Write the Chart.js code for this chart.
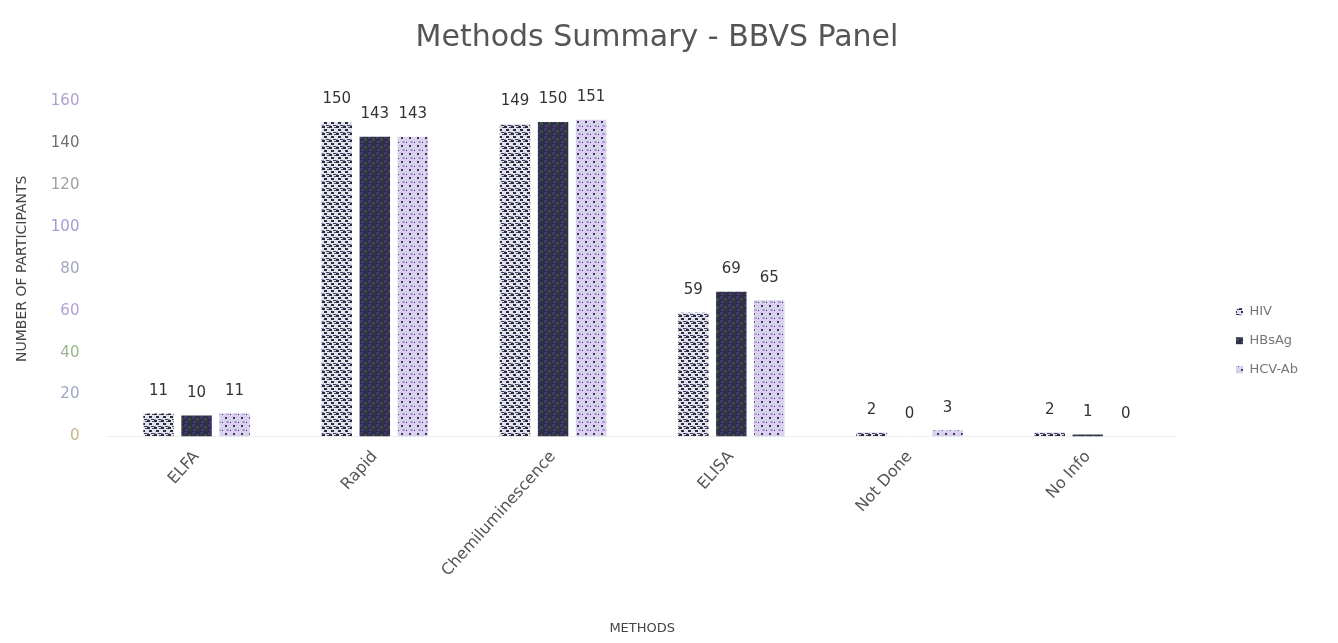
<!DOCTYPE html>
<html lang="en">
<head>
    <meta charset="UTF-8">
    <script src="https://cdn.jsdelivr.net/npm/chart.js"></script>
    <title>Methods Summary - BBVS Panel</title>
    <style>
        html, body { margin: 0; padding: 0; background: #fff; overflow: hidden; }
    </style>
</head>
<body>
    <canvas id="grafico" width="1338" height="643"></canvas>

<script>
    var metodos = ['ELFA', 'Rapid', 'Chemiluminescence', 'ELISA', 'Not Done', 'No Info'];
    var hiv = [11, 150, 149, 59, 2, 2];
    var hbsag = [10, 143, 150, 69, 0, 1];
    var hcvab = [11, 143, 151, 65, 3, 0];
    var ticksY = [0, 20, 40, 60, 80, 100, 120, 140, 160];

    var fonte = 'DejaVu Sans';

    // small tiles to imitate the scanned bar textures
    function textura(fundo, pontos, tam) {
        var c = document.createElement('canvas');
        c.width = tam;
        c.height = tam;
        var g = c.getContext('2d');
        g.fillStyle = fundo;
        g.fillRect(0, 0, tam, tam);
        pontos.forEach(function (p) {
            g.fillStyle = p[4];
            g.fillRect(p[0], p[1], p[2], p[3]);
        });
        return g.createPattern(c, 'repeat');
    }

    var corHiv = textura('#e2e2ee', [
        [0, 0, 3, 2, '#2b2b3a'], [5, 1, 2, 1, '#4a4a60'],
        [2, 3, 3, 2, '#2b2b3a'], [0, 6, 2, 1, '#8a8ab8'],
        [4, 6, 3, 1, '#3a3a4e']
    ], 7);
    var corHbsag = textura('#2e2c48', [
        [0, 0, 3, 3, '#3d3a6a'], [4, 2, 3, 3, '#37503f'],
        [1, 5, 3, 2, '#4b3b78'], [5, 6, 2, 2, '#2a3a40']
    ], 8);
    var corHcv = textura('#ddd0f2', [
        [1, 1, 2, 2, '#3a3a4e'], [5, 3, 2, 2, '#b8e0c8'],
        [2, 5, 3, 2, '#a9a0d8'], [6, 6, 1, 1, '#2b2b3a']
    ], 8);

    var rotulosPlugin = {
        id: 'rotulos',
        afterDatasetsDraw: function (chart) {
            var ctx = chart.ctx;
            ctx.save();
            ctx.font = '15px "DejaVu Sans"';
            ctx.fillStyle = '#333';
            ctx.textAlign = 'center';
            ctx.textBaseline = 'bottom';
            chart.data.datasets.forEach(function (ds, i) {
                chart.getDatasetMeta(i).data.forEach(function (bar, j) {
                    ctx.fillText(ds.data[j], bar.x, bar.y - 15);
                });
            });
            ctx.restore();
        }
    };

    const ctx = document.getElementById('grafico');

    new Chart(ctx, {
        type: 'bar',
        data: {
            labels: metodos,
            datasets: [{
                label: 'HIV',
                backgroundColor: corHiv,
                data: hiv
            },
            {
                label: 'HBsAg',
                backgroundColor: corHbsag,
                data: hbsag
            },
            {
                label: 'HCV-Ab',
                backgroundColor: corHcv,
                data: hcvab
            }]
        },
        plugins: [rotulosPlugin],
        options: {
            responsive: false,
            animation: false,
            devicePixelRatio: 1,
            categoryPercentage: 0.64,
            barPercentage: 0.8,
            layout: {
                padding: { left: 6, right: 30, top: 0, bottom: 4 }
            },
            plugins: {
                title: {
                    display: true,
                    text: 'Methods Summary - BBVS Panel',
                    color: '#555',
                    font: { family: fonte, size: 30, weight: 'normal' },
                    padding: { top: 20, bottom: 45 }
                },
                legend: {
                    position: 'right',
                    title: {
                        display: true,
                        text: ' ',
                        padding: { top: 0, bottom: 28 }
                    },
                    labels: {
                        boxWidth: 7,
                        boxHeight: 7,
                        padding: 16,
                        color: '#777',
                        font: { family: fonte, size: 13 }
                    }
                },
                tooltip: { enabled: false }
            },
            scales: {
                x: {
                    grid: { display: false },
                    border: { display: true, color: '#eee' },
                    ticks: {
                        color: '#555',
                        font: { family: fonte, size: 16 },
                        minRotation: 48,
                        maxRotation: 48
                    },
                    title: {
                        display: true,
                        text: 'METHODS',
                        color: '#444',
                        font: { family: fonte, size: 13 },
                        padding: { top: 37, bottom: 3 }
                    }
                },
                y: {
                    beginAtZero: true,
                    min: 0,
                    max: 160,
                    afterBuildTicks: function (axis) {
                        axis.ticks = ticksY.map(function (v) { return { value: v }; });
                    },
                    grid: { display: false },
                    border: { display: false },
                    ticks: {
                        color: ['#c8b48a', '#9aaac8', '#9ab88a', '#b0a0d8', '#a0a8c0', '#a898d8', '#a0a0a0', '#707070', '#b0a0d0'],
                        padding: 20,
                        font: { family: fonte, size: 15 }
                    },
                    title: {
                        display: true,
                        text: 'NUMBER OF PARTICIPANTS',
                        color: '#444',
                        font: { family: fonte, size: 14 },
                        padding: { top: 8, bottom: 0 }
                    }
                },
                y2: {
                    position: 'right',
                    display: true,
                    grid: { display: false },
                    border: { display: false },
                    ticks: { display: false },
                    afterFit: function (axis) {
                        axis.width = 43;
                    }
                }
            }
        }
    });
</script>
</body>
</html>
